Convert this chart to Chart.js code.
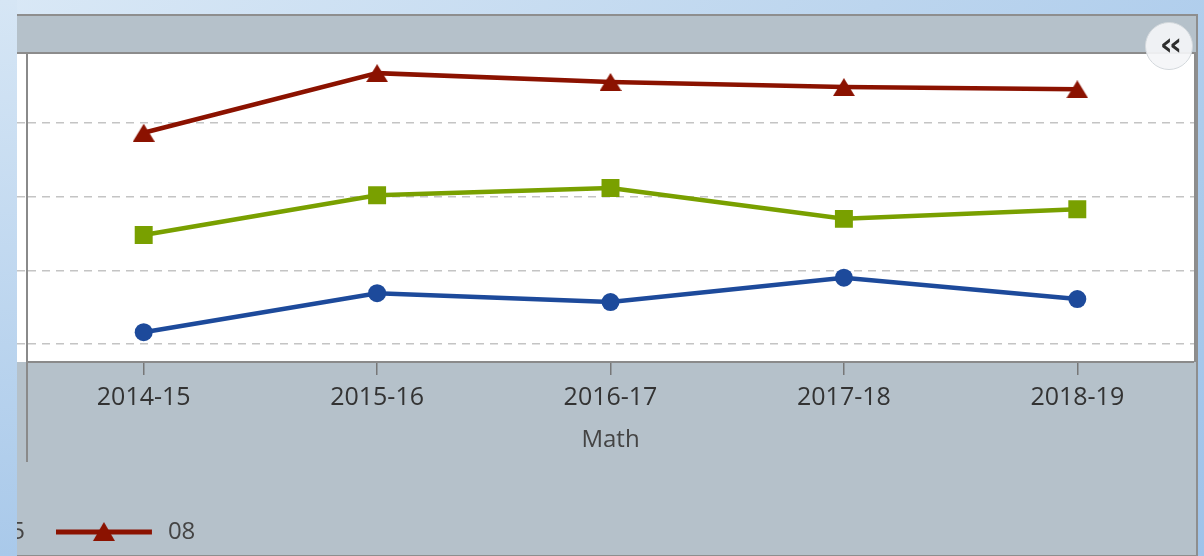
<!DOCTYPE html>
<html>
<head>
<meta charset="utf-8">
<script src="https://cdn.jsdelivr.net/npm/chart.js@4.4.1/dist/chart.umd.min.js"></script>
<style>
    html, body { margin: 0; padding: 0; width: 1204px; height: 556px; overflow: hidden; }
    body {
        position: relative;
        background: linear-gradient(135deg, #d9e8f6 0%, #bcd5ee 50%, #9ec3ea 100%);
        font-family: 'Open Sans', sans-serif;
    }
    #panel {
        position: absolute; left: 17px; top: 14px; width: 1179px; height: 539px;
        background: #b5c1ca;
        border-top: 2px solid #8e8e8e; border-right: 2px solid #8e8e8e; border-bottom: 1px solid #8e8e8e;
    }
    #plot-bg {
        position: absolute; left: 17px; top: 52px; width: 1177px; height: 308px;
        background: #fff;
        border-top: 2px solid #8c8c8c; border-right: 2px solid #8c8c8c;
    }
    #axis-ext { position: absolute; left: 26px; top: 362px; width: 2px; height: 100px; background: #8a8a8a; }
    #edge { position: absolute; left: 0; top: 0; width: 17px; height: 556px; z-index: 5;
            background: linear-gradient(to bottom, #d6e6f5, #a9c9ea); }
    #chart { position: absolute; left: -316px; top: 54px; z-index: 2; }
    #collapse {
        position: absolute; left: 1145px; top: 22px; width: 46px; height: 46px; z-index: 3;
        border-radius: 50%; border: 1px solid #d3d8dc; background: rgba(244, 245, 247, 0.92);
        color: #2e2e2e; font: bold 32px 'DejaVu Sans', sans-serif; line-height: 42px; text-align: center;
        letter-spacing: -4px;
    }
</style>
</head>
<body>
<div id="panel"></div>
<div id="plot-bg"></div>
<div id="axis-ext"></div>
<canvas id="chart" width="1510" height="502"></canvas>
<div id="collapse">‹‹</div>
<div id="edge"></div>

<script>
// ─── DATA ─────────────────────────────────────────────────────────────────────
const years   = ['2014-15', '2015-16', '2016-17', '2017-18', '2018-19'];
const grade03 = [21.6, 26.9, 25.7, 29.0, 26.1];
const grade05 = [34.8, 40.2, 41.2, 37.0, 38.3];
const grade08 = [48.7, 56.8, 55.6, 54.9, 54.6];
const yTicks  = [20, 30, 40, 50];
const Y_MIN = 17.55, Y_MAX = 59.4;

const BLUE = '#1d4a9b', GREEN = '#79a000', RED = '#8b1200';

// ─── MARKER IMAGES ────────────────────────────────────────────────────────────
function triangleImg(w, h, color) {
    const c = document.createElement('canvas');
    c.width = w; c.height = h;
    const g = c.getContext('2d');
    g.fillStyle = color;
    g.beginPath(); g.moveTo(w / 2, 0); g.lineTo(w, h); g.lineTo(0, h); g.closePath(); g.fill();
    return c;
}

function legendIcon(color, marker) {
    const c = document.createElement('canvas');
    c.width = 100; c.height = 24;
    const g = c.getContext('2d');
    g.strokeStyle = color; g.fillStyle = color; g.lineWidth = 5;
    g.beginPath(); g.moveTo(0, 12); g.lineTo(96, 12); g.stroke();
    g.beginPath();
    if (marker === 'circle') g.arc(48, 12, 9, 0, Math.PI * 2);
    else if (marker === 'rect') g.rect(39, 3, 18, 18);
    else { g.moveTo(48, 2); g.lineTo(59, 21); g.lineTo(37, 21); g.closePath(); }
    g.fill();
    return c;
}

const icons = [legendIcon(BLUE, 'circle'), legendIcon(GREEN, 'rect'), legendIcon(RED, 'tri')];

// ─── CHART ────────────────────────────────────────────────────────────────────
function draw() {
    const font = { family: "'Open Sans', sans-serif", size: 24 };

    new Chart(document.getElementById('chart'), {
        type: 'line',
        data: {
            labels: years,
            datasets: [
                { label: '03', data: grade03, borderColor: BLUE, backgroundColor: BLUE,
                  borderWidth: 4.5, pointStyle: 'circle', pointRadius: 9, pointBorderWidth: 0 },
                { label: '05', data: grade05, borderColor: GREEN, backgroundColor: GREEN,
                  borderWidth: 4.5, pointStyle: 'rect', pointRadius: 12.7, pointBorderWidth: 0 },
                { label: '08', data: grade08, borderColor: RED, backgroundColor: RED,
                  borderWidth: 4.5, pointStyle: triangleImg(22, 18, RED), pointRadius: 10 },
            ],
        },
        options: {
            responsive: false,
            animation: false,
            layout: { autoPadding: false, padding: { top: 0, left: 0, right: 0, bottom: 2 } },
            plugins: {
                tooltip: { enabled: false },
                legend: {
                    position: 'bottom',
                    align: 'start',
                    labels: {
                        usePointStyle: true,
                        pointStyleWidth: 100,
                        padding: 31,
                        color: '#444',
                        font,
                        generateLabels: (chart) => chart.data.datasets.map((ds, i) => ({
                            text: ds.label,
                            pointStyle: icons[i],
                            fillStyle: 'transparent',
                            strokeStyle: 'transparent',
                            lineWidth: 0,
                            fontColor: '#444',
                            hidden: false,
                            datasetIndex: i,
                        })),
                    },
                },
            },
            scales: {
                x: {
                    offset: true,
                    afterFit: (s) => { s.height = 127; },
                    grid: { offset: false, drawOnChartArea: false, tickLength: 13, color: '#777', lineWidth: 1.5 },
                    border: { color: '#8a8a8a', width: 2 },
                    ticks: { color: '#333', font: { ...font, size: 25 }, padding: 8, maxRotation: 0 },
                    title: { display: true, text: 'Math', color: '#444', font, padding: { top: 4, bottom: 34 } },
                },
                y: {
                    min: Y_MIN,
                    max: Y_MAX,
                    afterBuildTicks: (s) => { s.ticks = yTicks.map(v => ({ value: v })); },
                    afterFit: (s) => { s.width = 343; },
                    ticks: { display: false },
                    grid: { color: '#c4c4c4', lineWidth: 1.5, tickLength: 10, tickColor: '#c4c4c4', tickBorderDash: [8, 6] },
                    border: { display: true, color: '#8a8a8a', width: 2, dash: [8, 6] },
                },
            },
        },
    });
}

document.fonts.load("24px 'Open Sans'").then(draw, draw);
</script>
</body>
</html>
